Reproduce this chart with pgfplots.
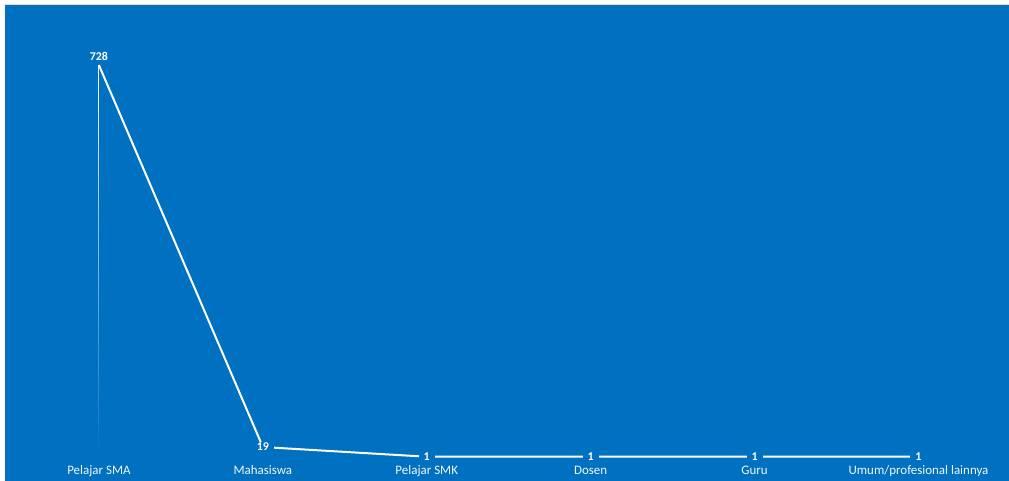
\documentclass[border=0pt]{standalone}
\usepackage{pgfplots}
\pgfplotsset{compat=1.18}
\usepackage{fontspec}
\setmainfont{Carlito}
\usetikzlibrary{fadings}
\definecolor{bg}{RGB}{0,112,192}
\pgfplotstableread{
x y
0 728
1 19
2 1
3 1
4 1
5 1
}\datatable
\pgfplotstableread{
x y
0 728
}\firstpt
\pgfplotstableread{
x y
1 19
2 1
3 1
4 1
5 1
}\restpts
\begin{document}
\begin{tikzpicture}
\fill[white] (-5bp,0) rectangle (1004bp,481bp);
\begin{axis}[
  at={(0,0)}, anchor=south west,
  scale only axis, width=1004bp, height=476bp,
  xmin=-0.573, xmax=5.549, ymin=-43.6, ymax=839.5,
  axis line style={draw=none},
  axis background/.style={fill=bg},
  major tick length=0pt,
  ytick=\empty,
  xtick={0,1,2,3,4,5},
  xticklabels={Pelajar SMA,Mahasiswa,Pelajar SMK,Dosen,Guru,Umum/profesional lainnya},
  xticklabel style={font=\fontsize{13}{15}\selectfont, text=white!95!bg, anchor=base, yshift=6bp},
  /pgf/number format/assume math mode=true,
  clip=false,
]
\addplot[ycomb, white, line width=1.3bp, path fading=south, mark=none] table[x=x,y=y] {\datatable};
\addplot[white, line width=2bp, mark=none] table[x=x,y=y] {\datatable};
\addplot[draw=none, mark=none, nodes near coords,
  nodes near coords style={font=\bfseries\fontsize{12}{12}\selectfont, text=white, anchor=south, yshift=1bp}]
  table[x=x,y=y] {\firstpt};
\addplot[draw=none, mark=none, nodes near coords,
  nodes near coords style={font=\bfseries\fontsize{12}{12}\selectfont, text=white, fill=bg, inner xsep=5bp, inner ysep=1bp, anchor=center}]
  table[x=x,y=y] {\restpts};
\end{axis}
\draw[gray!25, line width=1bp] (0,476bp) -- (1004bp,476bp);
\end{tikzpicture}
\end{document}
